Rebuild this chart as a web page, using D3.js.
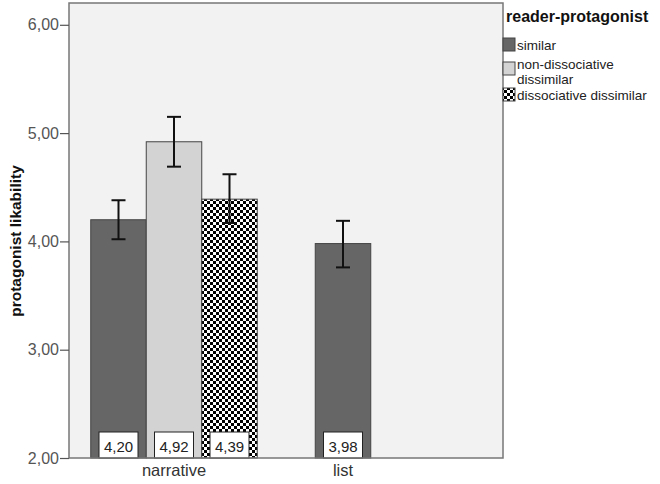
<!DOCTYPE html>
<html>
<head>
<meta charset="utf-8">
<script src="https://cdn.jsdelivr.net/npm/d3@7"></script>
<style>
  body { margin: 0; background: #fff; }
  svg text { font-family: Arial, "Liberation Sans", sans-serif; }
</style>
</head>
<body>
<div id="chart"></div>
<script>
// values
let categories = ["narrative", "list"];
let groups = ["similar", "non-dissociative dissimilar", "dissociative dissimilar"];
let means = [
    {cat: "narrative", group: "similar", mean: 4.20, lo: 4.02, hi: 4.38},
    {cat: "narrative", group: "non-dissociative dissimilar", mean: 4.92, lo: 4.69, hi: 5.15},
    {cat: "narrative", group: "dissociative dissimilar", mean: 4.39, lo: 4.17, hi: 4.62},
    {cat: "list", group: "similar", mean: 3.98, lo: 3.76, hi: 4.19}
];
let yTicks = [2, 3, 4, 5, 6];

let width = 660;
let height = 484;
let plot = {left: 69, top: 3, right: 503, bottom: 458};

let svg = d3.select("#chart")
    .append("svg")
    .attr("width", width)
    .attr("height", height);

let defs = svg.append("defs");
let pat = defs.append("pattern")
    .attr("id", "checker")
    .attr("patternUnits", "userSpaceOnUse")
    .attr("width", 6)
    .attr("height", 6);
pat.append("rect").attr("width", 6).attr("height", 6).attr("fill", "#fff");
pat.append("rect").attr("width", 3).attr("height", 3).attr("fill", "#000");
pat.append("rect").attr("x", 3).attr("y", 3).attr("width", 3).attr("height", 3).attr("fill", "#000");

let fills = {
    "similar": "#666666",
    "non-dissociative dissimilar": "#d3d3d3",
    "dissociative dissimilar": "url(#checker)"
};

// plot background
svg.append("rect")
    .attr("x", plot.left)
    .attr("y", plot.top)
    .attr("width", plot.right - plot.left)
    .attr("height", plot.bottom - plot.top)
    .attr("fill", "#f2f2f2");

let y = d3.scaleLinear()
    .domain([2, 6.2])
    .range([plot.bottom, plot.bottom - 4.2 * 108.3]);

let x = d3.scaleBand()
    .domain(categories)
    .range([89.5, 427.5])
    .padding(0);

let barW = 55.5;

// bars
let bars = svg.append("g");
categories.forEach(function (cat) {
    let rows = means.filter(d => d.cat == cat);
    let center = x(cat) + x.bandwidth() / 2;
    let start = center - rows.length * barW / 2;
    let sub = d3.scaleBand()
        .domain(rows.map(d => d.group))
        .range([start, start + rows.length * barW]);

    rows.forEach(function (d) {
        let bx = sub(d.group);
        bars.append("rect")
            .attr("x", bx)
            .attr("y", y(d.mean))
            .attr("width", barW)
            .attr("height", y(2) - y(d.mean))
            .attr("fill", fills[d.group])
            .attr("stroke", "#444")
            .attr("stroke-width", 1);

        // value label box
        bars.append("rect")
            .attr("x", bx + barW / 2 - 19.5)
            .attr("y", y(2) - 26)
            .attr("width", 39)
            .attr("height", 26)
            .attr("fill", "#fff")
            .attr("stroke", "#222")
            .attr("stroke-width", 1);
        bars.append("text")
            .attr("x", bx + barW / 2)
            .attr("y", y(2) - 6)
            .attr("text-anchor", "middle")
            .attr("font-size", 15)
            .attr("fill", "#222")
            .text(d3.format(".2f")(d.mean).replace(".", ","));

        // error bar
        let cx = bx + barW / 2;
        let eb = bars.append("g")
            .attr("stroke", "#111")
            .attr("stroke-width", 2);
        eb.append("line").attr("x1", cx).attr("x2", cx).attr("y1", y(d.hi)).attr("y2", y(d.lo));
        eb.append("line").attr("x1", cx - 7).attr("x2", cx + 7).attr("y1", y(d.hi)).attr("y2", y(d.hi));
        eb.append("line").attr("x1", cx - 7).attr("x2", cx + 7).attr("y1", y(d.lo)).attr("y2", y(d.lo));
    });
});

// frame
svg.append("rect")
    .attr("x", plot.left)
    .attr("y", plot.top)
    .attr("width", plot.right - plot.left)
    .attr("height", plot.bottom - plot.top)
    .attr("fill", "none")
    .attr("stroke", "#777")
    .attr("stroke-width", 1.5);

// y axis
let yAxis = svg.append("g")
    .attr("transform", "translate(" + plot.left + ",0)")
    .call(d3.axisLeft(y)
        .tickValues(yTicks)
        .tickSize(9)
        .tickPadding(1)
        .tickFormat(d => d3.format(".2f")(d).replace(".", ",")));
yAxis.select(".domain").remove();
yAxis.selectAll("line").attr("stroke", "#555").attr("stroke-width", 1.2);
yAxis.selectAll("text")
    .attr("font-size", 16)
    .attr("fill", "#555")
    .attr("font-family", "Arial, 'Liberation Sans', sans-serif");

svg.append("text")
    .attr("transform", "translate(21,241) rotate(-90)")
    .attr("text-anchor", "middle")
    .attr("font-size", 15.5)
    .attr("font-weight", "bold")
    .attr("fill", "#111")
    .text("protagonist likability");

// x labels
categories.forEach(function (cat) {
    svg.append("text")
        .attr("x", x(cat) + x.bandwidth() / 2)
        .attr("y", 476)
        .attr("text-anchor", "middle")
        .attr("font-size", 16.5)
        .attr("fill", "#333")
        .text(cat);
});

// legend
let legend = svg.append("g");
legend.append("text")
    .attr("x", 506)
    .attr("y", 22)
    .attr("font-size", 16)
    .attr("font-weight", "bold")
    .attr("fill", "#111")
    .text("reader-protagonist");

let legendRows = [
    {group: groups[0], lines: ["similar"], top: 38, base: 50},
    {group: groups[1], lines: ["non-dissociative", "dissimilar"], top: 62, base: 69},
    {group: groups[2], lines: ["dissociative dissimilar"], top: 88, base: 100}
];
legendRows.forEach(function (r) {
    legend.append("rect")
        .attr("x", 503)
        .attr("y", r.top)
        .attr("width", 12)
        .attr("height", 13)
        .attr("fill", fills[r.group])
        .attr("stroke", "#444")
        .attr("stroke-width", 1);
    r.lines.forEach(function (l, i) {
        legend.append("text")
            .attr("x", 517)
            .attr("y", r.base + i * 15)
            .attr("font-size", 13.5)
            .attr("fill", "#222")
            .text(l);
    });
});
</script>
</body>
</html>
